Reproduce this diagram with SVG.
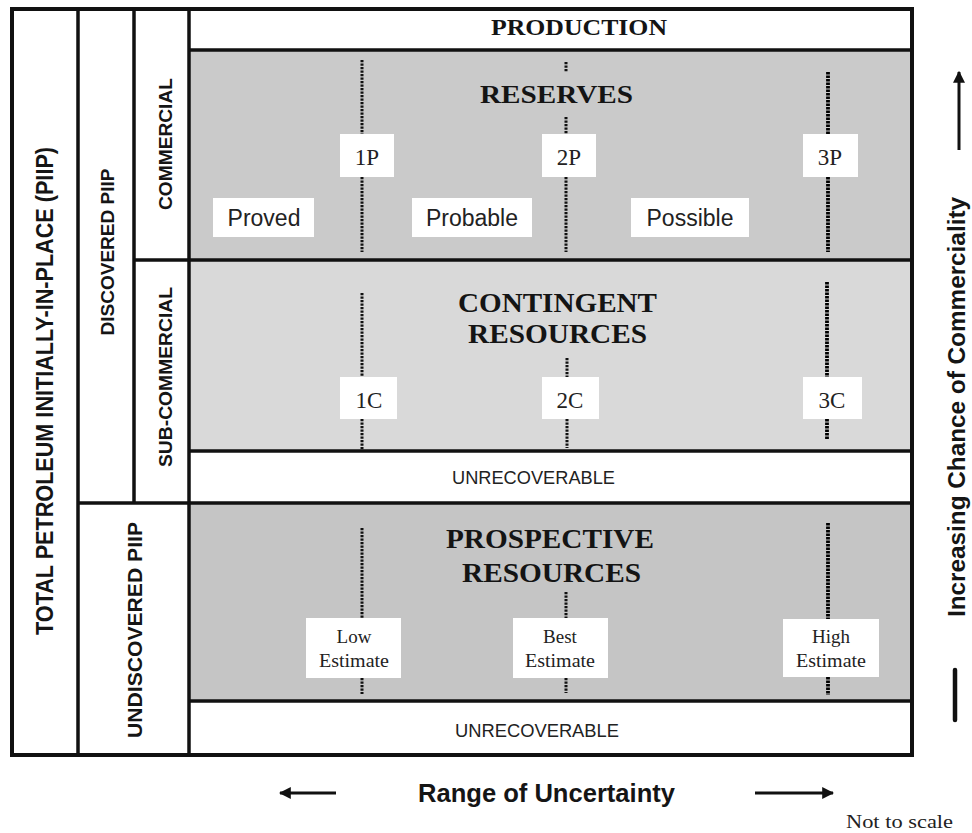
<svg xmlns="http://www.w3.org/2000/svg" width="972" height="833" viewBox="0 0 972 833">
<defs>
<style>
.frame{fill:none;stroke:#111;stroke-width:4}
.div{stroke:#111;stroke-width:3.5;fill:none}
.white{fill:#fff}
.res{fill:#cacaca}
.con{fill:#d9d9d9}
.pro{fill:#c5c5c5}
.lbl{fill:#fff}
.head{font-family:"Liberation Serif","Times New Roman",serif;font-weight:bold;fill:#141414;text-anchor:middle}
.cat{font-family:"Liberation Sans",Arial,sans-serif;font-weight:bold;fill:#151515;text-anchor:middle}
.sans{font-family:"Liberation Sans",Arial,sans-serif;fill:#222;text-anchor:middle}
.ser{font-family:"Liberation Serif","Times New Roman",serif;fill:#222;text-anchor:middle}
.dot{stroke:#111;stroke-width:3;stroke-dasharray:2.2 1.3;fill:none}
.dotk{stroke:#000;stroke-width:3.8;stroke-dasharray:2.5 1;fill:none}
.arr{stroke:#111;stroke-width:3;fill:none}
</style>
<marker id="ah" viewBox="0 0 10 10" refX="9" refY="5" markerWidth="4" markerHeight="4" orient="auto-start-reverse" markerUnits="strokeWidth">
<path d="M0,0 L10,5 L0,10 z" fill="#111"/>
</marker>
</defs>
<rect x="0" y="0" width="972" height="833" fill="#fff"/>

<g id="production">
<rect class="white" x="189" y="9" width="723" height="41"/>
<text class="head" x="579" y="35" font-size="23" textLength="176" lengthAdjust="spacingAndGlyphs">PRODUCTION</text>
</g>
<g id="reserves">
<rect class="res" x="189" y="50" width="723" height="210"/>
<text class="head" x="556.5" y="103" font-size="26" textLength="153" lengthAdjust="spacingAndGlyphs">RESERVES</text>
</g>
<g id="contingent">
<rect class="con" x="189" y="260" width="723" height="191"/>
<text class="head" x="557.5" y="312" font-size="27" textLength="199" lengthAdjust="spacingAndGlyphs">CONTINGENT</text>
<text class="head" x="557.5" y="343" font-size="27" textLength="179" lengthAdjust="spacingAndGlyphs">RESOURCES</text>
</g>
<g id="unrecoverable1">
<rect class="white" x="189" y="451" width="723" height="52"/>
<text class="sans" x="533.5" y="484" font-size="18" textLength="163" lengthAdjust="spacingAndGlyphs">UNRECOVERABLE</text>
</g>
<g id="prospective">
<rect class="pro" x="189" y="503" width="723" height="198"/>
<text class="head" x="550" y="548" font-size="27" textLength="208" lengthAdjust="spacingAndGlyphs">PROSPECTIVE</text>
<text class="head" x="551.5" y="582" font-size="27" textLength="179" lengthAdjust="spacingAndGlyphs">RESOURCES</text>
</g>
<g id="unrecoverable2">
<rect class="white" x="189" y="701" width="723" height="54"/>
<text class="sans" x="537" y="737" font-size="18" textLength="164" lengthAdjust="spacingAndGlyphs">UNRECOVERABLE</text>
</g>

<g id="total-piip">
<text class="cat" transform="translate(53,391) rotate(-90)" font-size="23" textLength="488" lengthAdjust="spacingAndGlyphs">TOTAL PETROLEUM INITIALLY-IN-PLACE  (PIIP)</text>
</g>
<g id="discovered-piip">
<text class="cat" transform="translate(114,252) rotate(-90)" font-size="18" textLength="167" lengthAdjust="spacingAndGlyphs">DISCOVERED PIIP</text>
</g>
<g id="commercial">
<text class="cat" transform="translate(172,144) rotate(-90)" font-size="18" textLength="132" lengthAdjust="spacingAndGlyphs">COMMERCIAL</text>
</g>
<g id="sub-commercial">
<text class="cat" transform="translate(172,377) rotate(-90)" font-size="18" textLength="180" lengthAdjust="spacingAndGlyphs">SUB-COMMERCIAL</text>
</g>
<g id="undiscovered-piip">
<text class="cat" transform="translate(142,630) rotate(-90)" font-size="20" textLength="216" lengthAdjust="spacingAndGlyphs">UNDISCOVERED PIIP</text>
</g>

<g id="grid">
<rect class="frame" x="12" y="9" width="900" height="746"/>
<line class="div" x1="78" y1="9" x2="78" y2="755"/>
<line class="div" x1="134" y1="9" x2="134" y2="503"/>
<line class="div" x1="189" y1="9" x2="189" y2="755"/>
<line class="div" x1="189" y1="50" x2="912" y2="50"/>
<line class="div" x1="134" y1="260" x2="912" y2="260"/>
<line class="div" x1="189" y1="451" x2="912" y2="451"/>
<line class="div" x1="78" y1="503" x2="912" y2="503"/>
<line class="div" x1="189" y1="701" x2="912" y2="701"/>
</g>

<g id="connectors">
<line class="dot" x1="362" y1="60" x2="362" y2="134"/>
<line class="dot" x1="362" y1="177" x2="362" y2="252"/>
<line class="dot" x1="566" y1="62" x2="566" y2="72"/>
<line class="dot" x1="566" y1="117" x2="566" y2="134"/>
<line class="dot" x1="566" y1="177" x2="566" y2="252"/>
<line class="dotk" x1="828" y1="72" x2="828" y2="134"/>
<line class="dotk" x1="828" y1="177" x2="828" y2="252"/>
<line class="dot" x1="362" y1="293" x2="362" y2="377"/>
<line class="dot" x1="362" y1="419" x2="362" y2="450"/>
<line class="dot" x1="567" y1="358" x2="567" y2="377"/>
<line class="dot" x1="567" y1="419" x2="567" y2="448"/>
<line class="dotk" x1="827" y1="282" x2="827" y2="377"/>
<line class="dotk" x1="827" y1="419" x2="827" y2="440"/>
<line class="dot" x1="362" y1="528" x2="362" y2="618"/>
<line class="dot" x1="362" y1="678" x2="362" y2="694"/>
<line class="dot" x1="566" y1="592" x2="566" y2="618"/>
<line class="dot" x1="566" y1="678" x2="566" y2="693"/>
<line class="dotk" x1="828" y1="523" x2="828" y2="619"/>
<line class="dotk" x1="828" y1="677" x2="828" y2="695"/>
</g>

<g id="p1"><rect class="lbl" x="340" y="134" width="54" height="43"/><text class="ser" x="367" y="165" font-size="23">1P</text></g>
<g id="p2"><rect class="lbl" x="542" y="134" width="54" height="43"/><text class="ser" x="569" y="165" font-size="23">2P</text></g>
<g id="p3"><rect class="lbl" x="803" y="134" width="55" height="43"/><text class="ser" x="830" y="165" font-size="23">3P</text></g>
<g id="proved"><rect class="lbl" x="213" y="198" width="101" height="39"/><text class="sans" x="264" y="226" font-size="23">Proved</text></g>
<g id="probable"><rect class="lbl" x="412" y="198" width="120" height="39"/><text class="sans" x="472" y="226" font-size="23">Probable</text></g>
<g id="possible"><rect class="lbl" x="631" y="198" width="118" height="39"/><text class="sans" x="690" y="226" font-size="23">Possible</text></g>
<g id="c1"><rect class="lbl" x="340" y="377" width="57" height="42"/><text class="ser" x="369" y="408" font-size="23">1C</text></g>
<g id="c2"><rect class="lbl" x="542" y="377" width="57" height="42"/><text class="ser" x="570" y="408" font-size="23">2C</text></g>
<g id="c3"><rect class="lbl" x="803" y="377" width="59" height="42"/><text class="ser" x="832" y="408" font-size="23">3C</text></g>
<g id="low"><rect class="lbl" x="306" y="618" width="95" height="60"/><text class="ser" x="354" y="643" font-size="19">Low</text><text class="ser" x="354" y="667" font-size="19" textLength="70" lengthAdjust="spacingAndGlyphs">Estimate</text></g>
<g id="best"><rect class="lbl" x="513" y="618" width="95" height="60"/><text class="ser" x="560" y="643" font-size="19">Best</text><text class="ser" x="560" y="667" font-size="19" textLength="70" lengthAdjust="spacingAndGlyphs">Estimate</text></g>
<g id="high"><rect class="lbl" x="783" y="619" width="96" height="58"/><text class="ser" x="831" y="643" font-size="19">High</text><text class="ser" x="831" y="667" font-size="19" textLength="70" lengthAdjust="spacingAndGlyphs">Estimate</text></g>

<g id="commerciality-axis">
<line class="arr" x1="959" y1="150" x2="959" y2="72" marker-end="url(#ah)"/>
<text class="cat" transform="translate(965,407) rotate(-90)" font-size="24" textLength="420" lengthAdjust="spacingAndGlyphs">Increasing Chance of Commerciality</text>
<line x1="955" y1="670" x2="955" y2="720" stroke="#111" stroke-width="4.5" stroke-linecap="round"/>
</g>
<g id="uncertainty-axis">
<line class="arr" x1="336" y1="793" x2="280" y2="793" marker-end="url(#ah)"/>
<text class="cat" x="546.5" y="802" font-size="25" textLength="257" lengthAdjust="spacingAndGlyphs">Range of Uncertainty</text>
<line class="arr" x1="755" y1="793" x2="833" y2="793" marker-end="url(#ah)"/>
</g>
<g id="note">
<text class="ser" x="899.5" y="828" font-size="19" fill="#222" textLength="107" lengthAdjust="spacingAndGlyphs">Not to scale</text>
</g>
</svg>
